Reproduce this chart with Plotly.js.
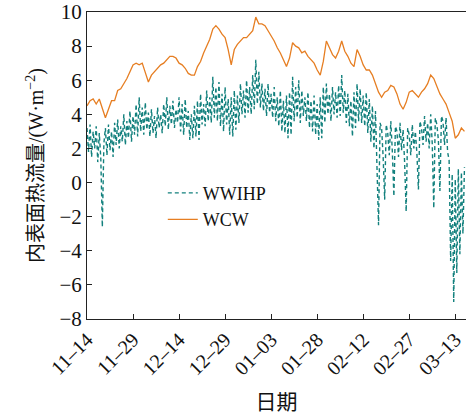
<!DOCTYPE html>
<html>
<head>
<meta charset="utf-8">
<script src="https://cdn.plot.ly/plotly-3.0.1.min.js"></script>
<style>
html,body{margin:0;padding:0;background:#fff;}
#chart{width:466px;height:414px;}
</style>
</head>
<body>
<div id="chart"></div>
<script>
// Tick positions (days since 11-14) and their labels
const tickDays = [0, 15, 30, 45, 60, 75, 90, 105, 120];
const tickLabels = ["11\u201314", "11\u201329", "12\u201314", "12\u201329", "01\u201303", "01\u201328", "02\u201312", "02\u201327", "03\u201313"];

// WCW: one sample per day, starting at day 0
const wcwStep = 1;
const wcw = [
  4.5, 4.8, 4.9, 4.6, 4.9, 4.4, 3.8, 4.3, 4.8, 4.8,
  5.4, 5.5, 5.8, 6.1, 6.5, 6.9, 7.0, 6.9, 7.0, 6.4,
  5.9, 6.3, 6.5, 6.7, 6.9, 7.0, 7.2, 7.4, 7.4, 7.3,
  7.0, 6.9, 6.7, 6.4, 6.3, 6.3, 6.8, 7.1, 7.6, 8.0,
  8.4, 9.0, 9.2, 9.0, 8.7, 8.5, 7.8, 6.9, 7.8, 8.1,
  8.3, 8.5, 8.5, 8.7, 8.9, 9.7, 9.3, 9.3, 9.2, 8.9,
  8.6, 8.3, 7.9, 7.6, 7.2, 6.8, 7.3, 8.2, 8.0, 7.9,
  7.6, 7.7, 7.4, 7.2, 7.0, 6.6, 6.3, 7.1, 8.3, 7.9,
  7.5, 7.3, 7.7, 8.3, 7.7, 7.4, 7.0, 6.8, 7.8, 7.4,
  6.9, 6.6, 6.6, 6.3, 5.8, 5.3, 5.0, 5.3, 5.4, 5.7,
  5.6, 5.2, 4.6, 4.3, 4.7, 5.3, 5.4, 5.2, 5.0, 5.3,
  5.5, 5.8, 6.3, 6.1, 5.6, 5.2, 4.9, 4.6, 4.1, 3.6,
  2.6, 2.8, 3.2, 3.0
];

// WWIHP: two samples per day (day d and d+0.5), starting at day 0
const wwihpStep = 0.5;
const wwihp = [
  3.2, 1.8,  3.4, 1.5,  3.0, 2.0,  3.3, 1.2,  2.9, 1.4,
  -2.6, 2.3, 3.2, 1.6,  3.4, 1.9,  3.0, 1.5,  3.5, 2.2,
  3.7, 2.0,  3.3, 2.4,  4.0, 2.2,  3.6, 2.6,  4.2, 2.4,
  3.9, 2.8,  4.6, 2.7,  5.0, 3.0,  4.4, 2.8,  4.7, 3.1,
  4.1, 2.7,  4.3, 2.9,  3.9, 2.6,  4.4, 3.2,  4.0, 2.9,
  4.6, 3.3,  5.0, 3.1,  4.5, 3.4,  4.8, 3.2,  4.3, 3.5,
  5.0, 3.0,  4.6, 2.8,  4.9, 3.2,  4.2, 2.5,  4.0, 2.6,
  4.5, 2.7,  4.8, 2.5,  5.2, 3.4,  4.6, 3.3,  5.4, 3.6,
  5.0, 3.5,  6.2, 3.8,  5.6, 3.6,  5.9, 3.3,  5.2, 3.0,
  5.6, 3.4,  4.9, 2.8,  5.0, 2.7,  5.4, 3.1,  5.1, 3.5,
  5.8, 4.0,  5.4, 3.8,  6.0, 4.1,  5.6, 4.0,  6.3, 4.3,
  7.2, 4.6,  6.5, 4.4,  5.8, 4.2,  5.5, 3.9,  5.8, 4.1,
  5.2, 3.8,  5.6, 3.6,  5.0, 3.3,  5.4, 3.0,  4.8, 2.9,
  5.1, 2.6,  5.3, 2.8,  6.2, 3.6,  5.6, 3.8,  6.0, 3.5,
  5.4, 3.9,  5.0, 3.6,  5.3, 3.2,  4.8, 3.0,  5.1, 2.8,
  4.6, 2.5,  5.0, 2.6,  5.6, 3.5,  5.8, 4.0,  5.2, 3.6,
  5.6, 4.0,  5.3, 3.8,  5.7, 3.9,  6.3, 4.1,  5.4, 3.5,
  5.2, 3.3,  4.8, 2.7,  5.3, 3.2,  5.8, 3.6,  5.5, 3.5,
  5.1, 3.3,  5.3, 2.9,  4.9, 2.4,  4.5, 2.0,  4.2, 1.4,
  -2.5, 3.5, 3.2, 1.5,  -1.0, 3.4, 2.9, 1.6,  3.6, 1.8,
  -0.8, 3.3, 3.0, 1.5,  3.5, 1.9,  3.1, 1.2,  -1.7, 3.2,
  2.8, 1.6,  3.4, 2.0,  3.0, 1.7,  -0.4, 3.6, 3.2, 2.2,
  3.9, 2.4,  3.5, 2.0,  4.0, 2.3,  -1.5, 3.8, 3.4, 2.5,
  -0.5, 3.9, 3.6, 2.2,  3.8, 1.8,  1.3, -4.6, 0.5, -7.0,
  0.2, -5.3, 0.8, -4.2, 0.6, -3.0, 0.9
];

const wcwX = wcw.map((_, i) => i * wcwStep);
const wwihpX = wwihp.map((_, i) => i * wwihpStep);

const serif = "Liberation Serif";
const titleFont = "Liberation Serif, Noto Sans CJK SC";

const traces = [
  {
    x: wwihpX, y: wwihp, type: "scatter", mode: "lines", name: "WWIHP",
    line: {color: "#12807d", width: 1.4, dash: "4px,3px"}
  },
  {
    x: wcwX, y: wcw, type: "scatter", mode: "lines", name: "WCW",
    line: {color: "#e67e22", width: 1.3}
  }
];

const layout = {
  width: 466, height: 414,
  margin: {l: 87, r: 0, t: 12, b: 95},
  paper_bgcolor: "#fff", plot_bgcolor: "#fff",
  font: {family: serif, size: 20, color: "#111"},
  showlegend: true,
  legend: {
    x: 0.2, y: 0.47, xanchor: "left", yanchor: "top",
    bgcolor: "rgba(0,0,0,0)", font: {family: serif, size: 18, color: "#111"},
    tracegroupgap: 0, itemwidth: 30
  },
  xaxis: {
    range: [0, 123.5], tickmode: "array", tickvals: tickDays, ticktext: tickLabels,
    tickangle: -45, ticks: "inside", ticklen: 5, tickcolor: "#222",
    showline: true, linecolor: "#222", linewidth: 1, mirror: true,
    showgrid: false, zeroline: false,
    tickfont: {family: serif, size: 20, color: "#111"},
    title: {text: "日期", font: {family: titleFont, size: 21, color: "#111"}, standoff: 18}
  },
  yaxis: {
    range: [-8, 10], tickvals: [-8, -6, -4, -2, 0, 2, 4, 6, 8, 10],
    ticktext: ["\u22128", "\u22126", "\u22124", "\u22122", "0", "2", "4", "6", "8", "10"],
    ticks: "inside", ticklen: 5, tickcolor: "#222",
    showline: true, linecolor: "#222", linewidth: 1,
    showgrid: false, zeroline: false,
    tickfont: {family: serif, size: 21, color: "#111"},
    title: {text: "内表面热流量/(W·m<sup>\u22122</sup>)", font: {family: titleFont, size: 20, color: "#111"}, standoff: 10}
  }
};

Plotly.newPlot("chart", traces, layout, {displayModeBar: false, staticPlot: true});
</script>
</body>
</html>
